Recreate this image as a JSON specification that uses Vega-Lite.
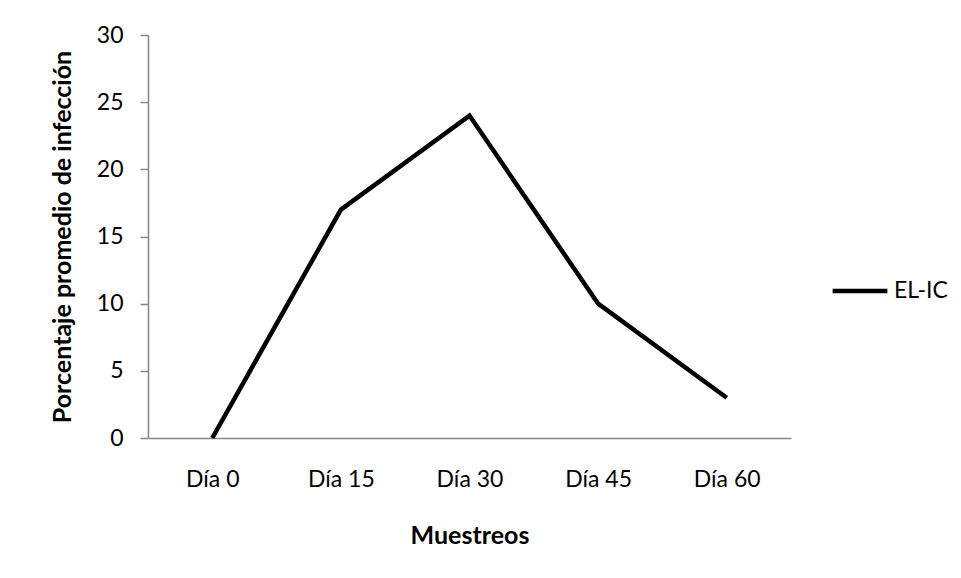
{
  "$schema": "https://vega.github.io/schema/vega-lite/v6.json",
  "width": 643,
  "height": 403,
  "autosize": {"type": "none"},
  "padding": {"left": 148, "top": 35, "right": 170, "bottom": 140},
  "background": "white",
  "config": {
    "view": {"stroke": null},
    "font": "Lato",
    "axis": {"labelFont": "Lato", "titleFont": "Lato", "labelColor": "black", "titleColor": "black", "domainColor": "#868686", "tickColor": "#868686", "grid": false}
  },
  "data": {
    "values": [
      {"dia": "Día 0", "valor": 0},
      {"dia": "Día 15", "valor": 17},
      {"dia": "Día 30", "valor": 24},
      {"dia": "Día 45", "valor": 10},
      {"dia": "Día 60", "valor": 3}
    ]
  },
  "mark": {"type": "line", "strokeWidth": 4.5, "strokeJoin": "miter"},
  "encoding": {
    "x": {
      "field": "dia", "type": "ordinal", "sort": null,
      "scale": {"type": "point", "padding": 0.5},
      "axis": {"title": "Muestreos", "labelAngle": 0, "labelFontSize": 23, "titleFontSize": 25, "titleFontWeight": "bold", "ticks": false, "labelPadding": 30, "titlePadding": 32, "domainWidth": 1.5}
    },
    "y": {
      "field": "valor", "type": "quantitative",
      "scale": {"domain": [0, 30]},
      "axis": {"title": "Porcentaje promedio de infección", "values": [0, 5, 10, 15, 20, 25, 30], "labelFontSize": 23, "titleFontSize": 25, "titleFontWeight": "bold", "tickSize": 8, "labelPadding": 17, "titlePadding": 21, "domainWidth": 1.5, "tickWidth": 1.5}
    },
    "color": {
      "datum": "EL-IC",
      "scale": {"range": ["black"]},
      "legend": {"title": null, "orient": "none", "legendX": 682, "legendY": 226, "symbolType": "stroke", "symbolSize": 3000, "symbolStrokeWidth": 4.5, "labelFontSize": 23, "labelFont": "Lato", "labelColor": "black", "labelOffset": 4}
    }
  }
}
